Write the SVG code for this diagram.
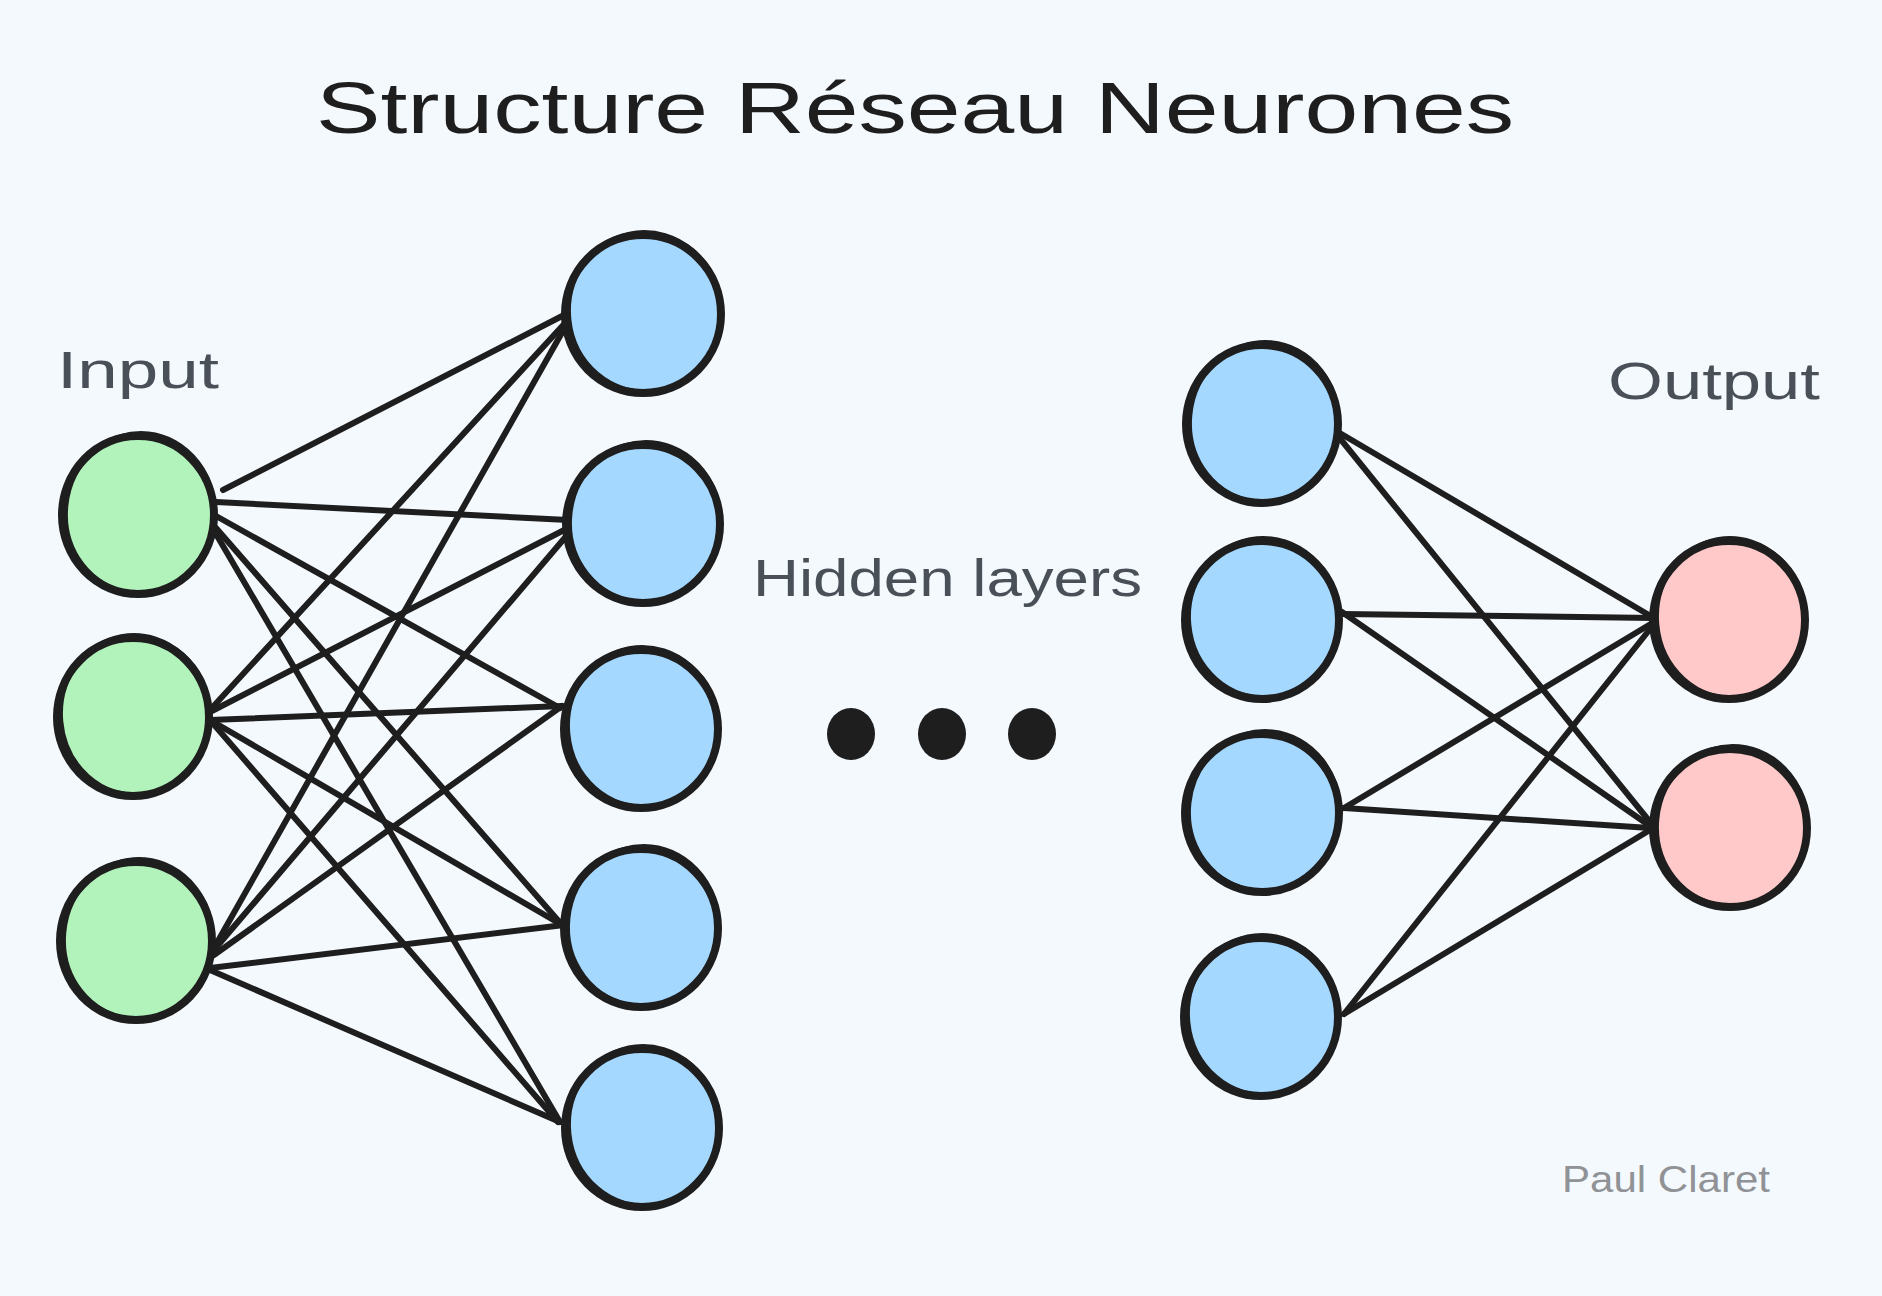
<svg xmlns="http://www.w3.org/2000/svg" width="1882" height="1296" viewBox="0 0 1882 1296">
<style>
.bg{fill:#f4f9fe}
.edge{stroke:#1e1e1e;stroke-width:6;stroke-linecap:round;fill:none}
.node{stroke:#1e1e1e;stroke-width:8}
.sk{fill:none;stroke:#1e1e1e;stroke-width:4}
.in{fill:#b2f2bb}
.hid{fill:#a5d8ff}
.out{fill:#ffc9c9}
.dot{fill:#1e1e1e}
.title{font-family:"Liberation Sans","DejaVu Sans",sans-serif;font-size:72px;fill:#1e1e1e}
.lbl{font-family:"Liberation Sans","DejaVu Sans",sans-serif;font-size:52px;fill:#495057}
.sig{font-family:"Liberation Sans","DejaVu Sans",sans-serif;font-size:37px;fill:#909296}
</style>
<rect class="bg" x="0" y="0" width="1882" height="1296"/>

<g id="connectors">
<line class="edge" x1="223" y1="490" x2="566" y2="314"/>
<line class="edge" x1="216" y1="502" x2="568" y2="520"/>
<line class="edge" x1="216" y1="516" x2="560" y2="708"/>
<line class="edge" x1="216" y1="528" x2="562" y2="925"/>
<line class="edge" x1="216" y1="534" x2="560" y2="1122"/>

<line class="edge" x1="210" y1="710" x2="566" y2="322"/>
<line class="edge" x1="210" y1="712" x2="570" y2="527"/>
<line class="edge" x1="210" y1="720" x2="562" y2="706"/>
<line class="edge" x1="210" y1="720" x2="562" y2="925"/>
<line class="edge" x1="210" y1="720" x2="558" y2="1122"/>

<line class="edge" x1="214" y1="948" x2="568" y2="322"/>
<line class="edge" x1="214" y1="950" x2="574" y2="527"/>
<line class="edge" x1="214" y1="955" x2="562" y2="706"/>
<line class="edge" x1="210" y1="968" x2="564" y2="925"/>
<line class="edge" x1="210" y1="970" x2="560" y2="1122"/>

<line class="edge" x1="1338" y1="432" x2="1654" y2="618"/>
<line class="edge" x1="1338" y1="436" x2="1650" y2="822"/>
<line class="edge" x1="1342" y1="614" x2="1654" y2="618"/>
<line class="edge" x1="1342" y1="612" x2="1650" y2="826"/>
<line class="edge" x1="1344" y1="808" x2="1654" y2="622"/>
<line class="edge" x1="1344" y1="808" x2="1650" y2="828"/>
<line class="edge" x1="1344" y1="1014" x2="1654" y2="624"/>
<line class="edge" x1="1344" y1="1014" x2="1650" y2="830"/>
</g>

<g id="input1"><ellipse class="node in" cx="138" cy="515" rx="76" ry="79"/><ellipse class="sk" cx="140" cy="513" rx="74" ry="80" transform="rotate(6 140 513)"/></g>
<g id="input2"><ellipse class="node in" cx="133" cy="717" rx="76" ry="79"/><ellipse class="sk" cx="135" cy="715" rx="74" ry="80" transform="rotate(-5 135 715)"/></g>
<g id="input3"><ellipse class="node in" cx="136" cy="941" rx="76" ry="79"/><ellipse class="sk" cx="138" cy="939" rx="74" ry="80" transform="rotate(5 138 939)"/></g>

<g id="hidden1a"><ellipse class="node hid" cx="643" cy="314" rx="78" ry="79"/><ellipse class="sk" cx="645" cy="312" rx="76" ry="80" transform="rotate(-6 645 312)"/></g>
<g id="hidden1b"><ellipse class="node hid" cx="643" cy="524" rx="77" ry="79"/><ellipse class="sk" cx="645" cy="522" rx="75" ry="80" transform="rotate(5 645 522)"/></g>
<g id="hidden1c"><ellipse class="node hid" cx="641" cy="729" rx="77" ry="79"/><ellipse class="sk" cx="643" cy="727" rx="75" ry="80" transform="rotate(-5 643 727)"/></g>
<g id="hidden1d"><ellipse class="node hid" cx="641" cy="928" rx="77" ry="79"/><ellipse class="sk" cx="643" cy="926" rx="75" ry="80" transform="rotate(6 643 926)"/></g>
<g id="hidden1e"><ellipse class="node hid" cx="642" cy="1128" rx="77" ry="79"/><ellipse class="sk" cx="644" cy="1126" rx="75" ry="80" transform="rotate(-6 644 1126)"/></g>

<g id="dots">
<ellipse class="dot" cx="851" cy="734" rx="24" ry="26"/>
<ellipse class="dot" cx="942" cy="734" rx="24" ry="26"/>
<ellipse class="dot" cx="1032" cy="734" rx="24" ry="26"/>
</g>

<g id="hidden2a"><ellipse class="node hid" cx="1262" cy="424" rx="76" ry="79"/><ellipse class="sk" cx="1264" cy="422" rx="74" ry="80" transform="rotate(5 1264 422)"/></g>
<g id="hidden2b"><ellipse class="node hid" cx="1262" cy="620" rx="77" ry="79"/><ellipse class="sk" cx="1264" cy="618" rx="75" ry="80" transform="rotate(-5 1264 618)"/></g>
<g id="hidden2c"><ellipse class="node hid" cx="1262" cy="813" rx="77" ry="79"/><ellipse class="sk" cx="1264" cy="811" rx="75" ry="80" transform="rotate(6 1264 811)"/></g>
<g id="hidden2d"><ellipse class="node hid" cx="1261" cy="1017" rx="77" ry="79"/><ellipse class="sk" cx="1263" cy="1015" rx="75" ry="80" transform="rotate(-6 1263 1015)"/></g>

<g id="output1"><ellipse class="node out" cx="1729" cy="620" rx="76" ry="79"/><ellipse class="sk" cx="1731" cy="618" rx="74" ry="80" transform="rotate(-5 1731 618)"/></g>
<g id="output2"><ellipse class="node out" cx="1730" cy="828" rx="77" ry="79"/><ellipse class="sk" cx="1732" cy="826" rx="75" ry="80" transform="rotate(5 1732 826)"/></g>

<g id="labels">
<text class="title" x="316" y="133" textLength="1198" lengthAdjust="spacingAndGlyphs">Structure Réseau Neurones</text>
<text class="lbl" x="57" y="388" textLength="162" lengthAdjust="spacingAndGlyphs">Input</text>
<text class="lbl" x="753" y="596" textLength="389" lengthAdjust="spacingAndGlyphs">Hidden layers</text>
<text class="lbl" x="1608" y="399" textLength="212" lengthAdjust="spacingAndGlyphs">Output</text>
<text class="sig" x="1562" y="1192" textLength="208" lengthAdjust="spacingAndGlyphs">Paul Claret</text>
</g>
</svg>
